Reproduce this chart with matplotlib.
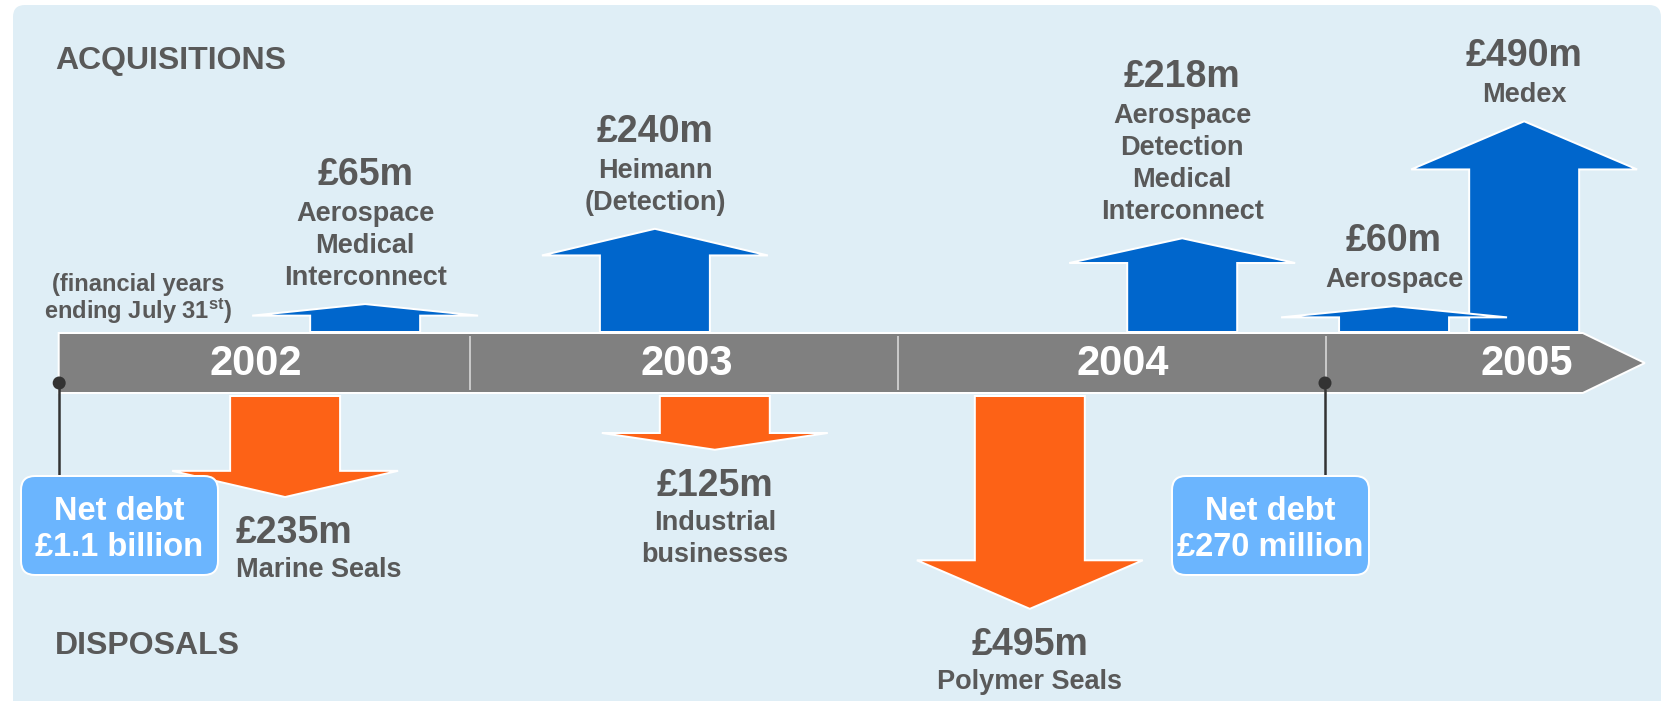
import matplotlib.pyplot as plt
from matplotlib.patches import Polygon, FancyBboxPatch, Circle

plt.rcParams['font.family'] = ['Liberation Sans', 'DejaVu Sans']
plt.rcParams['mathtext.fontset'] = 'custom'
plt.rcParams['mathtext.rm'] = 'Liberation Sans:bold'
plt.rcParams['mathtext.it'] = 'Liberation Sans:bold'
plt.rcParams['mathtext.bf'] = 'Liberation Sans:bold'

# ---- data ----
years = ['2002', '2003', '2004', '2005']

acq_values = [65, 240, 218, 60, 490]          # £m
acq_names = ['Aerospace\nMedical\nInterconnect',
             'Heimann\n(Detection)',
             'Aerospace\nDetection\nMedical\nInterconnect',
             'Aerospace',
             'Medex']

disp_values = [235, 125, 495]                 # £m
disp_names = ['Marine Seals', 'Industrial\nbusinesses', 'Polymer Seals']

debt_labels = ['Net debt\n£1.1 billion', 'Net debt\n£270 million']

# ---- layout (position on timeline, in years from start of FY2002) ----
acq_t = [0.755, 1.432, 2.664, 3.159, 3.463]
disp_t = [0.568, 1.572, 2.308]
disp_align = ['left', 'center', 'center']
year_t = [0.5, 1.507, 2.526, 3.47]
debt_t = [0.039, 3.0]
debt_box_x = [119, 1270]

W, H = 1669, 701
X0, YEAR_W = 42, 428
BAR_TOP, BAR_BOT = 333, 393
PX_PER_M = 0.43          # arrow length per £m
SHAFT_HW, HEAD_HW = 55, 113

BG = '#dfeef6'
BLUE = '#0066cc'
ORANGE = '#fd6216'
GREY = '#808080'
TXT = '#595959'
BOX = '#6bb5fe'


def tx(t):
    return X0 + t * YEAR_W


def pt(px):
    return px * 72 / 100


fig = plt.figure(figsize=(W / 100, H / 100), dpi=100, facecolor='white')
ax = fig.add_axes([0, 0, 1, 1])
ax.set_xlim(0, W)
ax.set_ylim(H, 0)
ax.axis('off')

# background panel
ax.add_patch(FancyBboxPatch((13, 5), 1648, 740,
                            boxstyle='round,pad=0,rounding_size=12',
                            fc=BG, ec='none', zorder=0))

ax.text(55, 61, 'ACQUISITIONS', fontsize=23, fontweight='bold', color=TXT,
        ha='left', va='center')
ax.text(55, 646, 'DISPOSALS', fontsize=23, fontweight='bold', color=TXT,
        ha='left', va='center')

# timeline bar
mid = (BAR_TOP + BAR_BOT) / 2
bar_end = tx(3.6)
ax.add_patch(Polygon([(tx(debt_t[0]), BAR_TOP), (bar_end, BAR_TOP),
                      (bar_end + 62, mid), (bar_end, BAR_BOT),
                      (tx(debt_t[0]), BAR_BOT)],
                     closed=True, fc=GREY, ec='white', lw=pt(2), zorder=2))
for k in range(1, len(years)):
    ax.plot([tx(k), tx(k)], [BAR_TOP + 4, BAR_BOT - 4], color='#c8c8c8',
            lw=pt(2), zorder=3)
for t, y in zip(year_t, years):
    ax.text(tx(t), mid + 1, y, fontsize=30, fontweight='bold', color='white',
            ha='center', va='center', zorder=4)

ax.text(138, 285, '(financial years', fontsize=17, fontweight='bold',
        color=TXT, ha='center', va='center')
ax.text(138, 311, r'ending July 31$^{\rm st}$)', fontsize=17,
        fontweight='bold', color=TXT, ha='center', va='center')


def arrow(cx, base, length, direction, color, z):
    head = 0.2 * length + 6
    tip = base + direction * length
    hb = tip - direction * head
    pts = [(cx - SHAFT_HW, base), (cx - SHAFT_HW, hb), (cx - HEAD_HW, hb),
           (cx, tip), (cx + HEAD_HW, hb), (cx + SHAFT_HW, hb),
           (cx + SHAFT_HW, base)]
    ax.add_patch(Polygon(pts, closed=True, fc=color, ec='white',
                         lw=pt(2), joinstyle='miter', zorder=z))
    return tip


# acquisitions (larger ones drawn first so small ones sit on top)
order = sorted(range(len(acq_values)), key=lambda i: -acq_values[i])
for z, i in enumerate(order):
    cx = tx(acq_t[i])
    tip = arrow(cx, BAR_TOP - 1, acq_values[i] * PX_PER_M, -1, BLUE, 5 + z * 0.1)
    lines = acq_names[i].split('\n')
    n = len(lines)
    for k, line in enumerate(lines):
        ax.text(cx, tip - 26 - (n - 1 - k) * 32, line, fontsize=19.5,
                fontweight='bold', color=TXT, ha='center', va='center')
    ax.text(cx, tip - 26 - (n - 1) * 32 - 39, f'£{acq_values[i]}m',
            fontsize=27, fontweight='bold', color=TXT, ha='center',
            va='center')

# disposals
for i, v in enumerate(disp_values):
    cx = tx(disp_t[i])
    tip = arrow(cx, BAR_BOT + 3, v * PX_PER_M, 1, ORANGE, 5)
    lx = cx if disp_align[i] == 'center' else cx - SHAFT_HW + 6
    ax.text(lx, tip + 36, f'£{v}m', fontsize=27, fontweight='bold',
            color=TXT, ha=disp_align[i], va='center')
    for k, line in enumerate(disp_names[i].split('\n')):
        ax.text(lx, tip + 73 + k * 32, line, fontsize=19.5, fontweight='bold',
                color=TXT, ha=disp_align[i], va='center')

# net debt markers
for t, bx, lab in zip(debt_t, debt_box_x, debt_labels):
    x = tx(t) + (0.5 if t < 1 else -1)
    ax.plot([x, x], [383, 477], color='#333333', lw=pt(2.5), zorder=6)
    ax.add_patch(Circle((x, 383), 6.5, fc='#333333', ec='none', zorder=7))
    ax.add_patch(FancyBboxPatch((bx - 98, 476), 197, 99,
                                boxstyle='round,pad=0,rounding_size=14',
                                fc=BOX, ec='white', lw=pt(2), zorder=8))
    l1, l2 = lab.split('\n')
    ax.text(bx, 511, l1, fontsize=23.5, fontweight='bold', color='white',
            ha='center', va='center', zorder=9)
    ax.text(bx, 548, l2, fontsize=23.5, fontweight='bold', color='white',
            ha='center', va='center', zorder=9)

fig.savefig('out.png', dpi=100, facecolor='white')
